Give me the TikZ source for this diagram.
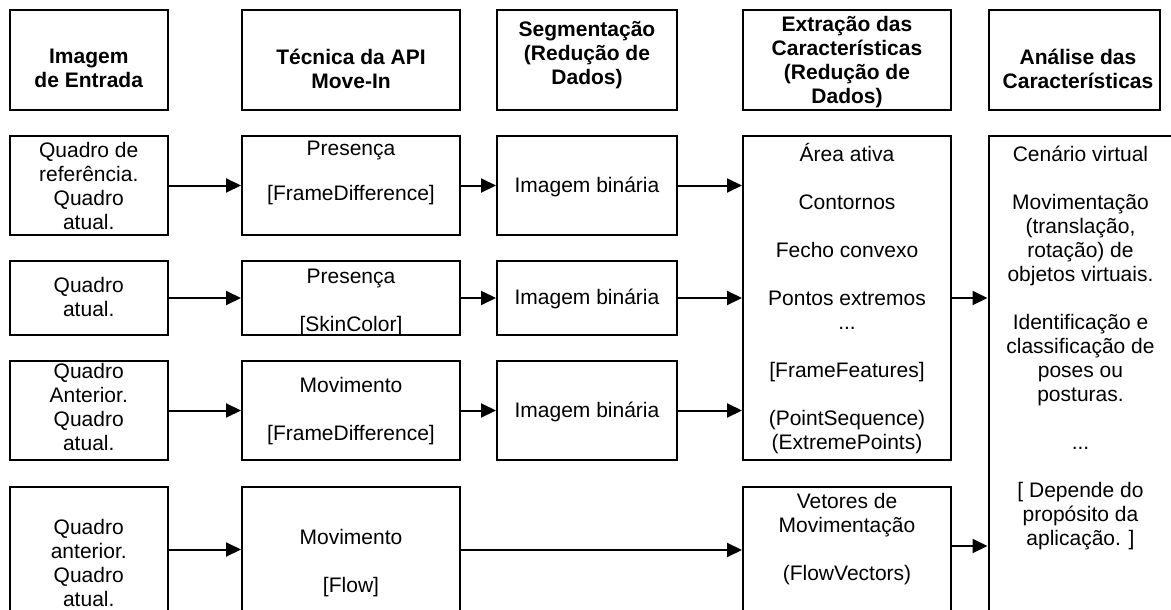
\documentclass[tikz,border=0pt]{standalone}
\usepackage{fontspec}
\setmainfont{Liberation Sans}
\usetikzlibrary{arrows.meta,fit}
\begin{document}
\begin{tikzpicture}[x=1pt,y=-1pt,
  box/.style={draw, line width=2pt, inner sep=0pt},
  txt/.style={align=center, inner sep=0pt, font=\fontsize{21}{24}\selectfont,
    execute at begin node=\strut, execute at end node=\strut},
  head/.style={txt, font=\fontsize{21}{24}\selectfont\bfseries},
  arr/.style={line width=2pt, -{Triangle[length=15pt,width=14pt]}}]
\useasboundingbox (0,0) rectangle (1171,610);
\clip (0,0) rectangle (1171,610);

% column headings
\node[box, fit={(9.5,10) (168,110)}] (h1) {};
\node[box, fit={(242,10) (460,110)}] (h2) {};
\node[box, fit={(497,10) (677,110)}] (h3) {};
\node[box, fit={(743,10) (951,110)}] (h4) {};
\node[box, fit={(988.5,10) (1160,110)}] (h5) {};
\node[head] (ht1) at (88.75,72) {Imagem\\de Entrada};
\node[head] (ht2) at (351,72) {Técnica da API\\Move-In};
\node[head] (ht3) at (587,57) {Segmentação\\(Redução de\\Dados)};
\node[head] (ht4) at (847,63) {Extração das\\Características\\(Redução de\\Dados)};
\node[head] (ht5) at (1078,72) {Análise das\\Características};

% row 1
\node[box, fit={(9.5,136) (168,235)}] (r1c1) {};
\node[box, fit={(242,136) (460,235)}] (r1c2) {};
\node[box, fit={(497,136) (677,235)}] (r1c3) {};
\node[txt] (t11) at (88.75,189.5) {Quadro de\\referência.\\Quadro\\atual.};
\node[txt] (t12) at (351,174.5) {Presença\\[21pt]{}[FrameDifference]};
\node[txt] (t13) at (587,188) {Imagem binária};

% row 2
\node[box, fit={(9.5,261) (168,335)}] (r2c1) {};
\node[box, fit={(242,261) (460,335)}] (r2c2) {};
\node[box, fit={(497,261) (677,335)}] (r2c3) {};
\node[txt] (t21) at (88.75,300.5) {Quadro\\atual.};
\node[txt] (t22) at (351,303.5) {Presença\\[24pt]{}[SkinColor]};
\node[txt] (t23) at (587,300) {Imagem binária};

% row 3
\node[box, fit={(9.5,361) (168,460)}] (r3c1) {};
\node[box, fit={(242,361) (460,460)}] (r3c2) {};
\node[box, fit={(497,361) (677,460)}] (r3c3) {};
\node[txt] (t31) at (88.75,410.5) {Quadro\\Anterior.\\Quadro\\atual.};
\node[txt] (t32) at (351,412.5) {Movimento\\[24pt]{}[FrameDifference]};
\node[txt] (t33) at (587,413) {Imagem binária};

% row 4
\node[box, fit={(9.5,487) (168,640)}] (r4c1) {};
\node[box, fit={(242,487) (460,640)}] (r4c2) {};
\node[txt] (t41) at (88.75,566) {Quadro\\anterior.\\Quadro\\atual.};
\node[txt] (t42) at (351,564) {Movimento\\[24pt]{}[Flow]};

% feature extraction
\node[box, fit={(743,136) (951,460)}] (c4a) {};
\node[box, fit={(743,487) (951,640)}] (c4b) {};
\node[txt] (t4a) at (847,299.7) {Área ativa\\[24pt]Contornos\\[24pt]Fecho convexo\\[24pt]Pontos extremos\\...\\[24pt]{}[FrameFeatures]\\[24pt](PointSequence)\\(ExtremePoints)};
\node[txt] (t4b) at (847,540.7) {Vetores de\\Movimentação\\[24pt](FlowVectors)};

% feature analysis
\node[box, fit={(988.5,136) (1175,640)}] (c5) {};
\node[txt] (t5) at (1080.5,349.5) {Cenário virtual\\[24pt]Movimentação\\(translação,\\rotação) de\\objetos virtuais.\\[24pt]Identificação e\\classificação de\\poses ou\\posturas.\\[24pt]...\\[24pt]{}[ Depende do\\propósito da\\aplicação. ]};

% connectors
\draw[arr] (r1c1.east) -- (r1c2.west);
\draw[arr] (r1c2.east) -- (r1c3.west);
\draw[arr] (r1c3.east) -- (r1c3.east -| c4a.west);
\draw[arr] (r2c1.east) -- (r2c2.west);
\draw[arr] (r2c2.east) -- (r2c3.west);
\draw[arr] (r2c3.east) -- (r2c3.east -| c4a.west);
\draw[arr] (r3c1.east) -- (r3c2.west);
\draw[arr] (r3c2.east) -- (r3c3.west);
\draw[arr] (r3c3.east) -- (r3c3.east -| c4a.west);
\coordinate (f1) at ([yshift=14pt]r4c1.east);
\draw[arr] (f1) -- (f1 -| r4c2.west);
\coordinate (f2) at ([yshift=13.5pt]r4c2.east);
\draw[arr] (f2) -- (f2 -| c4b.west);
\draw[arr] (c4a.east) -- (c4a.east -| c5.west);
\coordinate (f3) at ([yshift=17.5pt]c4b.east);
\draw[arr] (f3) -- (f3 -| c5.west);
\end{tikzpicture}
\end{document}
